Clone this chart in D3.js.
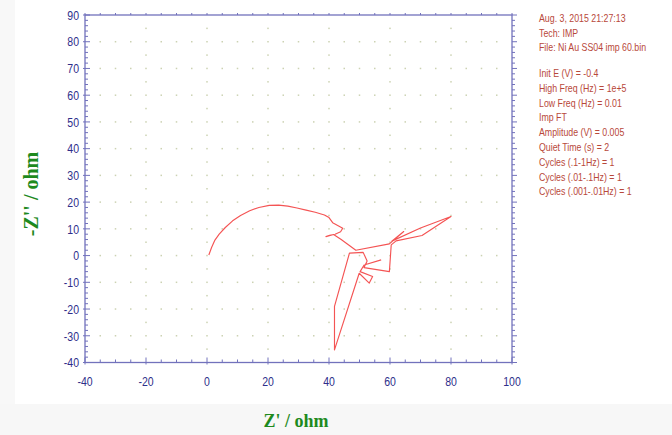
<!DOCTYPE html>
<html>
<head>
<meta charset="utf-8">
<script src="https://cdn.jsdelivr.net/npm/d3@7/dist/d3.min.js"></script>
<style>
  html, body { margin: 0; padding: 0; background: #ffffff; }
  svg { display: block; }
</style>
</head>
<body>
<svg id="chart" width="672" height="435"></svg>
<script>
// Nyquist plot data: Z' (real part) and -Z'' (imaginary part), in ohm
const zReal = [0.6, 1.5, 2.6, 4.0, 6.0, 8.4, 11.0, 14.0, 17.0, 20.4, 23.5, 26.5, 29.5, 32.5, 35.5, 38.5,
  40.0, 41.2, 43.0, 44.5, 43.8, 42.0, 40.2, 39.0, 41.5, 44.0, 48.8,
  59.8, 64.5, 60.6, 70.0, 80.0, 70.5, 62.0, 60.4, 59.8, 51.5, 52.5, 51.2, 46.7,
  41.8, 41.8, 49.9, 53.2, 54.3, 50.2, 51.5, 57.1];
const zImag = [0.2, 3.0, 5.8, 8.0, 10.5, 13.0, 15.0, 16.8, 18.0, 18.8, 18.9, 18.5, 17.8, 17.0, 16.2, 15.2,
  14.2, 12.3, 11.2, 10.2, 8.9, 8.0, 7.6, 7.1, 7.9, 6.0, 2.0,
  4.4, 9.0, 5.4, 10.3, 14.6, 7.5, 5.5, 4.0, -6.0, -4.5, -2.0, 1.2, 0.9,
  -19.0, -35.3, -6.6, -10.3, -7.8, -6.0, -3.5, -1.6];

// axis tick values
const xTicks = [-40, -20, 0, 20, 40, 60, 80, 100];
const yTicks = [-40, -30, -20, -10, 0, 10, 20, 30, 40, 50, 60, 70, 80, 90];

// experiment parameters printed beside the plot
const header = ["Aug. 3, 2015   21:27:13", "Tech: IMP", "File: Ni Au SS04 imp 60.bin"];
const params = ["Init E (V) = -0.4", "High Freq (Hz) = 1e+5", "Low Freq (Hz) = 0.01", "Imp FT",
  "Amplitude (V) = 0.005", "Quiet Time (s) = 2", "Cycles (.1-1Hz) = 1",
  "Cycles (.01-.1Hz) = 1", "Cycles (.001-.01Hz) = 1"];

const svg = d3.select("#chart");
const W = 672, H = 435;
const plotL = 85, plotR = 512, plotT = 15, plotB = 362.5;
const axisColor = "#7272bc", labelColor = "#2e2e8a", gridColor = "#ccd2b2";
const sans = "'Liberation Sans', Arial, sans-serif";
const serif = "'Liberation Serif', 'Times New Roman', serif";

// faint page margins
svg.append("rect").attr("x", 0).attr("y", 0).attr("width", 15).attr("height", H).attr("fill", "#f8f8f8");
svg.append("rect").attr("x", 0).attr("y", 404).attr("width", W).attr("height", H - 404).attr("fill", "#f7f7f7");

const x = d3.scaleLinear().domain([-40, 100]).range([plotL, plotR]);
const y = d3.scaleLinear().domain([-40, 90]).range([plotB, plotT]);

// dotted grid: dots along each labelled row and column
const dots = [];
yTicks.slice(1, -1).forEach(v => d3.range(-35, 100, 5).forEach(u => dots.push([u, v])));
xTicks.slice(1, -1).forEach(u => d3.range(-35, 90, 5).forEach(v => { if (v % 10 !== 0) dots.push([u, v]); }));
svg.append("g").selectAll("rect").data(dots).join("rect")
  .attr("x", d => x(d[0]) - 0.75).attr("y", d => y(d[1]) - 0.75)
  .attr("width", 1.5).attr("height", 1.5).attr("fill", gridColor);

// frame
svg.append("rect").attr("x", plotL).attr("y", plotT).attr("width", plotR - plotL).attr("height", plotB - plotT)
  .attr("fill", "none").attr("stroke", axisColor).attr("stroke-width", 1.3);

// tick marks (all drawn towards up / right)
const tk = svg.append("g").attr("stroke", axisColor).attr("stroke-width", 1);
d3.range(-40, 101, 5).forEach(u => {
  const big = u % 20 === 0;
  tk.append("line").attr("x1", x(u)).attr("x2", x(u)).attr("y1", plotB + (big ? 2 : 0)).attr("y2", plotB - (big ? 5 : 3));
  tk.append("line").attr("x1", x(u)).attr("x2", x(u)).attr("y1", plotT).attr("y2", plotT - 2);
});
d3.range(-40, 91, 2).forEach(v => {
  const big = v % 10 === 0;
  tk.append("line").attr("y1", y(v)).attr("y2", y(v)).attr("x1", plotL - (big ? 2 : 0)).attr("x2", plotL + (big ? 5 : 3));
  tk.append("line").attr("y1", y(v)).attr("y2", y(v)).attr("x1", plotR).attr("x2", plotR + (big ? 5 : 3));
});

// condensed text helper: a horizontally squeezed label placed at (px, py)
function narrowText(sel, px, py, sx) {
  return sel.append("g").attr("transform", `translate(${px},${py}) scale(${sx},1)`).append("text");
}

// tick labels
const yl = svg.append("g").attr("font-family", sans).attr("font-size", 13.5).attr("fill", labelColor);
yTicks.forEach(v => narrowText(yl, plotL - 6, y(v), 0.78).attr("dy", "0.35em").attr("text-anchor", "end").text(v));
const xl = svg.append("g").attr("font-family", sans).attr("font-size", 13.5).attr("fill", labelColor);
xTicks.forEach(u => narrowText(xl, x(u), plotB + 19, 0.78).attr("dy", "0.35em").attr("text-anchor", "middle").text(u));

// axis titles
svg.append("text").attr("x", 296).attr("y", 427).attr("text-anchor", "middle")
  .attr("font-family", serif).attr("font-weight", "bold")
  .attr("font-size", 18).attr("fill", "#1e8a1e").text("Z' / ohm");
svg.append("text").attr("transform", "translate(38,194) rotate(-90)").attr("text-anchor", "middle")
  .attr("font-family", serif).attr("font-weight", "bold")
  .attr("font-size", 20).attr("fill", "#1e8a1e").text("-Z'' / ohm");

// impedance trace
const pts = zReal.map((r, i) => [r, zImag[i]]);
svg.append("path").datum(pts)
  .attr("d", d3.line().x(d => x(d[0])).y(d => y(d[1])))
  .attr("fill", "none").attr("stroke", "#f45454").attr("stroke-width", 1.15).attr("stroke-linejoin", "round");

// parameter block
const info = svg.append("g").attr("font-family", sans).attr("font-size", 11).attr("fill", "#b8483a");
header.forEach((t, i) => narrowText(info, 539, 22 + i * 14.5, 0.8).text(t));
params.forEach((t, i) => narrowText(info, 539, 77 + i * 14.8, 0.8).text(t));
</script>
</body>
</html>
